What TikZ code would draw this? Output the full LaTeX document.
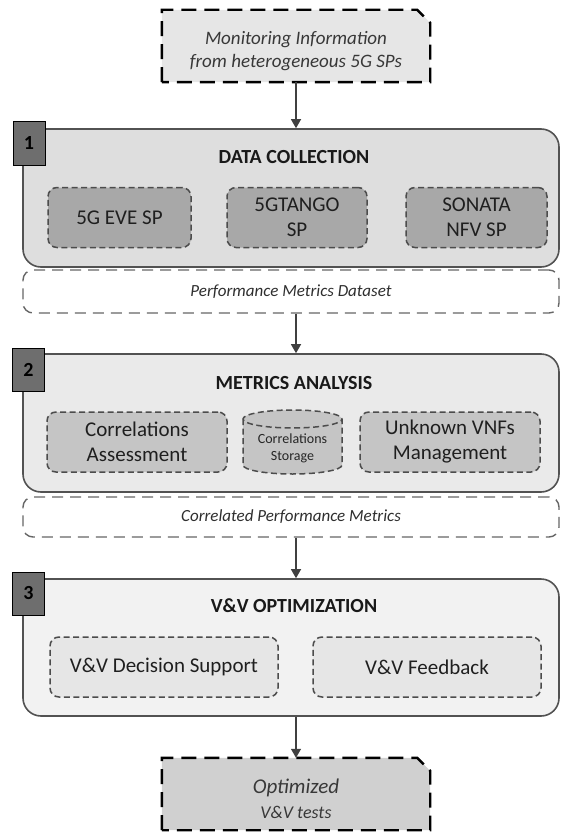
\documentclass[tikz,border=0pt]{standalone}
\usepackage{fontspec}
\setmainfont{Carlito}
\usetikzlibrary{arrows.meta,backgrounds}

\definecolor{srcfill}{HTML}{E6E6E6}
\definecolor{outfill}{HTML}{D0D0D0}
\definecolor{stageA}{HTML}{DEDEDE}
\definecolor{stageB}{HTML}{EAEAEA}
\definecolor{stageC}{HTML}{F2F2F2}
\definecolor{modA}{HTML}{A8A8A8}
\definecolor{modB}{HTML}{C5C5C5}
\definecolor{modC}{HTML}{E6E6E6}
\definecolor{badgegray}{HTML}{6E6E6E}

\tikzset{
  ioframe/.style={draw=black, line width=2.4pt, dash pattern=on 15pt off 8pt},
  ioarea/.style={minimum width=268pt, minimum height=72pt, inner sep=0pt},
  iotext/.style={align=center, text=black!78, inner sep=0pt},
  stage/.style={draw=black!68, line width=1.6pt, rounded corners=18pt,
    minimum width=536pt, inner sep=0pt},
  badge/.style={draw=black, line width=1pt, fill=badgegray, minimum width=32pt,
    minimum height=43pt, inner sep=0pt, font=\bfseries\fontsize{20}{22}\selectfont},
  stagetitle/.style={font=\bfseries\fontsize{20}{24}\selectfont, text=black!90},
  module/.style={draw=black!70, line width=1.5pt, dash pattern=on 6pt off 3.5pt,
    rounded corners=9pt, minimum height=60pt, inner sep=0pt, align=center,
    font=\fontsize{21}{25}\selectfont, text=black!88},
  dataset/.style={draw=black!60, line width=1.4pt, dash pattern=on 11pt off 7pt,
    rounded corners=10pt, minimum width=536pt, inner sep=0pt,
    font=\itshape\fontsize{17}{20}\selectfont, text=black!82},
  flow/.style={draw=black!75, line width=1.3pt, -{Triangle[width=10pt,length=9pt]}},
}

\begin{document}
\begin{tikzpicture}[x=1pt,y=-1pt]
\useasboundingbox (0,0) rectangle (560,832);

% input: monitoring information
\node[ioarea] (src) at (296,46) {};
\node[iotext, font=\itshape\fontsize{19}{23}\selectfont] (srclabel) at (296,51)
  {Monitoring Information\\from heterogeneous 5G SPs};

% stage 1
\node[stage, fill=stageA, minimum height=138pt] (s1) at (291,198) {};
\node[badge] (n1) at (29,143.5) {1};
\node[stagetitle] (t1) at (294,157) {DATA COLLECTION};
\node[module, fill=modA, minimum width=143pt] (eve) at (119.5,217.5) {5G EVE SP};
\node[module, fill=modA, minimum width=140pt] (tango) at (297,217.5) {5GTANGO\\SP};
\node[module, fill=modA, minimum width=141pt] (sonata) at (476.5,217.5) {SONATA\\NFV SP};

\node[dataset, minimum height=43pt] (d1) at (291,291.5) {Performance Metrics Dataset};

% stage 2
\node[stage, fill=stageB, minimum height=138pt] (s2) at (291,423) {};
\node[badge] (n2) at (28.5,369.5) {2};
\node[stagetitle] (t2) at (294,383) {METRICS ANALYSIS};
\node[module, fill=modB, minimum width=180pt] (corr) at (137,442) {Correlations\\Assessment};
\node[module, fill=modB, minimum width=180pt] (unk) at (450,442) {Unknown VNFs\\Management};

% correlations storage (cylinder)
\path[fill=modB] (243,419) -- (243,465)
  arc[start angle=180, end angle=360, x radius=49.5pt, y radius=9pt]
  -- (342,419)
  arc[start angle=0, end angle=180, x radius=49.5pt, y radius=9pt] -- cycle;
\draw[draw=black!70, line width=1.5pt, dash pattern=on 6pt off 3.5pt]
  (243,419) -- (243,465)
  arc[start angle=180, end angle=360, x radius=49.5pt, y radius=9pt]
  -- (342,419)
  arc[start angle=0, end angle=180, x radius=49.5pt, y radius=9pt]
  arc[start angle=180, end angle=360, x radius=49.5pt, y radius=9pt];
\node[align=center, font=\fontsize{14}{17}\selectfont, text=black!85] (store)
  at (292.5,448) {Correlations\\Storage};

\node[dataset, minimum height=40pt] (d2) at (291,517) {Correlated Performance Metrics};

% stage 3
\node[stage, fill=stageC, minimum height=137pt] (s3) at (291,647.5) {};
\node[badge] (n3) at (28.5,593.5) {3};
\node[stagetitle] (t3) at (294,606) {V\&V OPTIMIZATION};
\node[module, fill=modC, minimum width=228pt] (dec) at (164,667) {V\&V Decision Support};
\node[module, fill=modC, minimum width=228pt] (fb) at (427,667) {V\&V Feedback};

% output: optimized tests
\node[ioarea] (out) at (296,794) {};
\node[iotext, font=\itshape\fontsize{21}{25}\selectfont] (outlabel) at (296,799)
  {Optimized\\{\fontsize{18}{22}\selectfont V\&V tests}};

% chamfered input/output frames
\begin{scope}[on background layer]
  \foreach \b/\c in {src/srcfill, out/outfill}{
    \draw[ioframe, fill=\c] (\b.south west) -- (\b.north west)
      -- ([xshift=-13pt]\b.north east) -- ([yshift=-13pt]\b.north east)
      -- (\b.south east) -- cycle;
  }
\end{scope}

% flow arrows
\draw[flow] (src.south) -- (src.south |- s1.north);
\draw[flow] (src.south |- d1.south) -- (src.south |- s2.north);
\draw[flow] (src.south |- d2.south) -- (src.south |- s3.north);
\draw[flow] (src.south |- s3.south) -- (out.north);
\end{tikzpicture}
\end{document}
